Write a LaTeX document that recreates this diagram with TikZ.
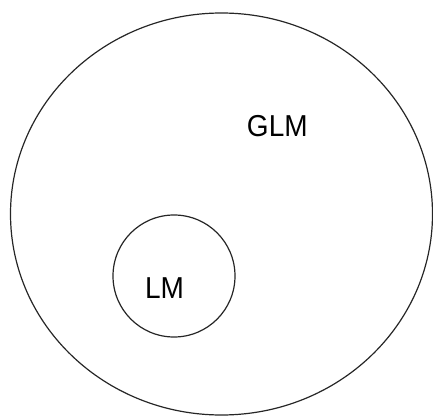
\documentclass[tikz,border=0pt]{standalone}
\usepackage{fontspec}
\setmainfont{Liberation Sans}
\begin{document}
\begin{tikzpicture}[x=1pt,y=-1pt,
  setline/.style={draw=black!85,line width=1.2pt},
  lbl/.style={font=\fontsize{28}{32}\selectfont,inner sep=0pt,yscale=1.08}]
\useasboundingbox (0,0) rectangle (433,417);
\draw[setline] (221.5,214) ellipse [x radius=211,y radius=201];
\node[setline,circle,minimum size=122pt,inner sep=0pt] (lmc) at (174,276) {};
\node[lbl] (glm) at (277.3,126) {GLM};
\node[lbl] (lm) at (164.5,288) {LM};
\end{tikzpicture}
\end{document}
